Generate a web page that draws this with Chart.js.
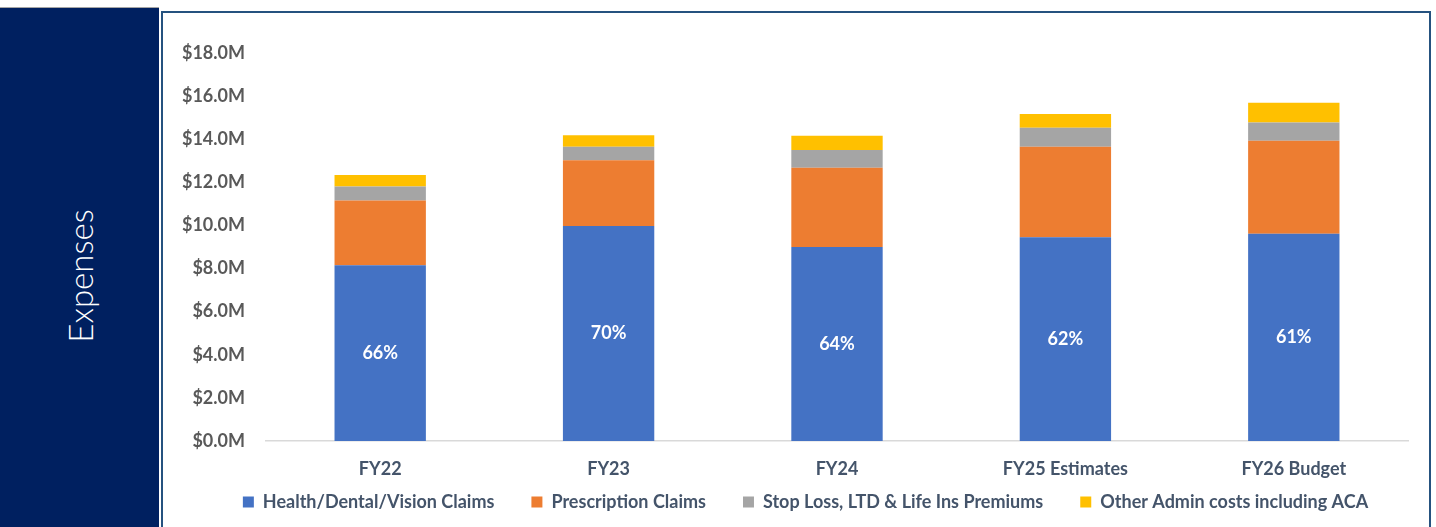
<!DOCTYPE html>
<html>
<head>
<meta charset="utf-8">
<script src="https://cdn.jsdelivr.net/npm/chart.js@4.4.0/dist/chart.umd.min.js"></script>
<style>
  html, body { margin: 0; padding: 0; background: #fff; }
  body { width: 1436px; height: 527px; overflow: hidden; position: relative; }
  #side {
    position: absolute; left: 0; top: 7px; width: 159px; height: 520px;
    background: #002060; border-top: 1px solid #a6a6a6; box-sizing: border-box;
  }
  #side span {
    position: absolute; left: 80px; top: 268px;
    transform: translate(-50%, -50%) rotate(-90deg);
    color: #fff; font-family: Lato, "Open Sans", sans-serif; font-weight: 300;
    font-size: 33px; white-space: nowrap;
  }
  #frame {
    position: absolute; left: 161px; top: 11px; width: 1270px; height: 520px;
    border: 2px solid #25527f; border-bottom: none; box-sizing: border-box;
  }
  #frame canvas { display: block; }
</style>
</head>
<body>
<div id="side"><span>Expenses</span></div>
<div id="frame"><canvas id="chart-expenses" width="1266" height="514"></canvas></div>
<script>
// Annual plan expenses, $M
const years = ["FY22", "FY23", "FY24", "FY25 Estimates", "FY26 Budget"];
const healthClaims = [8.15, 9.98, 9.00, 9.45, 9.62];
const rxClaims = [3.01, 3.04, 3.68, 4.20, 4.31];
const stopLossPremiums = [0.65, 0.63, 0.82, 0.88, 0.85];
const otherAdmin = [0.53, 0.54, 0.66, 0.64, 0.91];

const yMax = 18;
const yStep = 2;

const TEXT_SLATE = "#44546a";
const FONT = "Lato, 'Open Sans', sans-serif";

// legend padding also sets the row height, so the wider gap between
// entries comes from trailing spaces instead
const LEGEND_GAP = "\u2002\u2002\u2002";
// legend sits a little right of the canvas centre, under the plot
const LEGEND_SHIFT = 20;

// share of health/dental/vision claims in each year's total
function healthShare(i) {
    const total = healthClaims[i] + rxClaims[i] + stopLossPremiums[i] + otherAdmin[i];
    return Math.round(healthClaims[i] / total * 100);
}

const shareLabels = {
    id: "shareLabels",
    afterLayout(chart) {
        chart.legend.left += LEGEND_SHIFT;
        chart.legend.right += LEGEND_SHIFT;
    },
    afterDatasetsDraw(chart) {
        const ctx = chart.ctx;
        const meta = chart.getDatasetMeta(0);
        ctx.save();
        ctx.fillStyle = "#fff";
        ctx.font = `bold 18px ${FONT}`;
        ctx.textAlign = "center";
        ctx.textBaseline = "middle";
        meta.data.forEach((bar, i) => {
            const props = bar.getProps(["x", "y", "base"], true);
            ctx.fillText(`${healthShare(i)}%`, props.x, (props.y + props.base) / 2);
        });
        ctx.restore();
    },
};

function series(label, data, color) {
    return {
        label: label,
        data: data,
        backgroundColor: color,
        borderWidth: 0,
        barPercentage: 0.4,
        categoryPercentage: 1.0,
    };
}

const ctx = document.getElementById("chart-expenses").getContext("2d");
new Chart(ctx, {
    type: "bar",
    data: {
        labels: years,
        datasets: [
            series("Health/Dental/Vision Claims", healthClaims, "#4472c4"),
            series("Prescription Claims", rxClaims, "#ed7d31"),
            series("Stop Loss, LTD & Life Ins Premiums", stopLossPremiums, "#a5a5a5"),
            series("Other Admin costs including ACA", otherAdmin, "#ffc000"),
        ],
    },
    options: {
        responsive: false,
        animation: false,
        layout: { padding: { top: 40, right: 21, bottom: 6, left: 0 } },
        plugins: {
            tooltip: { enabled: false },
            legend: {
                position: "bottom",
                labels: {
                    boxWidth: 11,
                    boxHeight: 11,
                    padding: 10,
                    color: TEXT_SLATE,
                    font: { family: FONT, size: 18, weight: "bold" },
                    generateLabels(chart) {
                        const items = Chart.defaults.plugins.legend.labels.generateLabels(chart);
                        items.forEach((item, i) => {
                            if (i < items.length - 1) item.text += LEGEND_GAP;
                        });
                        return items;
                    },
                },
            },
        },
        scales: {
            x: {
                stacked: true,
                grid: { display: false, drawTicks: false },
                border: { display: true, color: "#d9d9d9", width: 1.5 },
                ticks: {
                    padding: 17,
                    color: TEXT_SLATE,
                    font: { family: FONT, size: 18, weight: "bold" },
                },
                afterFit: scale => { scale.height = 42; },
            },
            y: {
                stacked: true,
                min: 0,
                max: yMax,
                grid: { display: false, drawTicks: false },
                border: { display: false },
                ticks: {
                    stepSize: yStep,
                    padding: 21,
                    color: "#595959",
                    font: { family: FONT, size: 18, weight: "bold" },
                    callback: v => `$${v.toFixed(1)}M`,
                },
                afterFit: scale => { scale.width = 103; },
            },
        },
    },
    plugins: [shareLabels],
});
</script>
</body>
</html>
